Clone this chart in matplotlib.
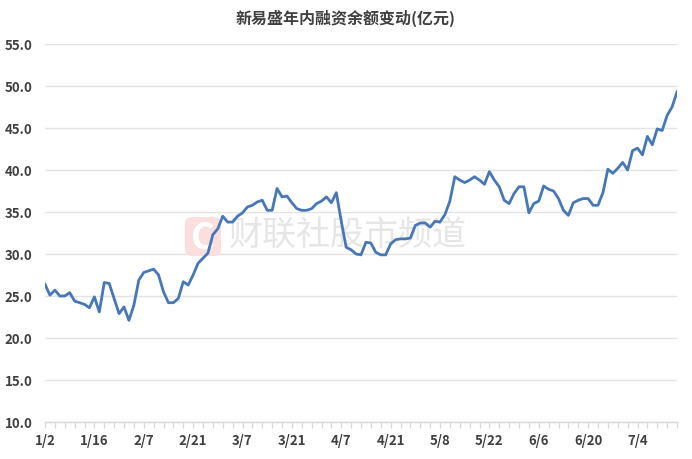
import numpy as np
import matplotlib
matplotlib.use('Agg')
import matplotlib.pyplot as plt
from matplotlib.patches import FancyBboxPatch
from matplotlib.ticker import MultipleLocator, FormatStrFormatter

plt.rcParams['font.family'] = ['Noto Sans CJK SC', 'DejaVu Sans']

title = '新易盛年内融资余额变动(亿元)'
tick_labels = ['1/2', '1/16', '2/7', '2/21', '3/7', '3/21', '4/7',
               '4/21', '5/8', '5/22', '6/6', '6/20', '7/4']
# 融资余额(亿元), 每个交易日一个值
balance = [26.4, 25.1, 25.7, 25.0, 25.0, 25.4, 24.4, 24.2, 24.0, 23.6,
           24.9, 23.1, 26.6, 26.5, 24.7, 22.9, 23.7, 22.1, 23.9, 26.9,
           27.8, 28.0, 28.2, 27.5, 25.5, 24.2, 24.2, 24.7, 26.7, 26.3,
           27.5, 28.9, 29.5, 30.1, 32.3, 33.0, 34.5, 33.8, 33.8, 34.5,
           34.9, 35.6, 35.8, 36.2, 36.4, 35.2, 35.2, 37.8, 36.8, 36.9,
           36.1, 35.4, 35.2, 35.2, 35.4, 36.0, 36.3, 36.8, 36.1, 37.3,
           33.9, 30.8, 30.5, 30.0, 29.9, 31.4, 31.3, 30.2, 29.9, 29.9,
           31.2, 31.7, 31.8, 31.8, 31.9, 33.4, 33.7, 33.7, 33.2, 33.9,
           33.8, 34.7, 36.3, 39.2, 38.8, 38.5, 38.8, 39.2, 38.8, 38.3,
           39.8, 38.8, 38.0, 36.4, 36.0, 37.2, 38.0, 38.0, 34.9, 36.0,
           36.3, 38.1, 37.7, 37.5, 36.6, 35.2, 34.6, 36.1, 36.4, 36.6,
           36.6, 35.8, 35.8, 37.3, 40.1, 39.6, 40.2, 40.9, 40.0, 42.3,
           42.6, 41.8, 44.0, 43.0, 44.9, 44.7, 46.5, 47.5, 49.3]

W, H = 692, 460
fig = plt.figure(figsize=(W / 100, H / 100), dpi=100)
ax = fig.add_axes([45 / W, 1 - 423 / H, (677 - 45) / W, (423 - 45) / H])

x = np.arange(len(balance))

# 水印 (放在坐标轴里, 在曲线下面)
logo = FancyBboxPatch((185 / W, 1 - 257 / H), 36 / W, 39 / H,
                      boxstyle='round,pad=0,rounding_size=0.012',
                      transform=fig.transFigure, facecolor='#fbdede',
                      edgecolor='none', zorder=1, clip_on=False)
ax.add_patch(logo)
ax.text(203 / W, 1 - 238 / H, 'C', color='white', fontsize=26,
        fontweight='bold', ha='center', va='center', zorder=1,
        transform=fig.transFigure)
ax.text(229 / W, 1 - 236 / H, '财联社股市频道', color='#e6e6e6',
        fontsize=24.5, ha='left', va='center', zorder=1,
        transform=fig.transFigure)

ax.plot(x, balance, color='#4677b8', lw=2.0, solid_joinstyle='round', zorder=3)

ax.set_xlim(0, len(balance) - 1)
ax.set_ylim(10, 55)
ax.yaxis.set_major_locator(MultipleLocator(5))
ax.yaxis.set_major_formatter(FormatStrFormatter('%.1f'))
ax.set_xticks(x[::10][:len(tick_labels)])
ax.set_xticklabels(tick_labels)
ax.xaxis.set_minor_locator(MultipleLocator(2))

ax.set_axisbelow(True)
ax.grid(axis='y', color='#e3e3e3', lw=1.0)
for s in ['top', 'right', 'left']:
    ax.spines[s].set_visible(False)
ax.spines['bottom'].set_color('#d9d9d9')
ax.spines['bottom'].set_linewidth(1.0)

ax.tick_params(axis='y', length=0, pad=9, labelsize=9.5, labelcolor='#404040')
ax.tick_params(axis='x', which='both', length=4, color='#d9d9d9', width=1,
               direction='out')
ax.tick_params(axis='x', which='major', pad=4, labelsize=9.5, labelcolor='#404040')
for lab in ax.get_xticklabels() + ax.get_yticklabels():
    lab.set_fontweight('bold')

fig.text(0.5, 1 - 18 / H, title, ha='center', va='center', fontsize=11.5,
         fontweight='bold', color='#404040')

fig.savefig('out.png', dpi=100)
